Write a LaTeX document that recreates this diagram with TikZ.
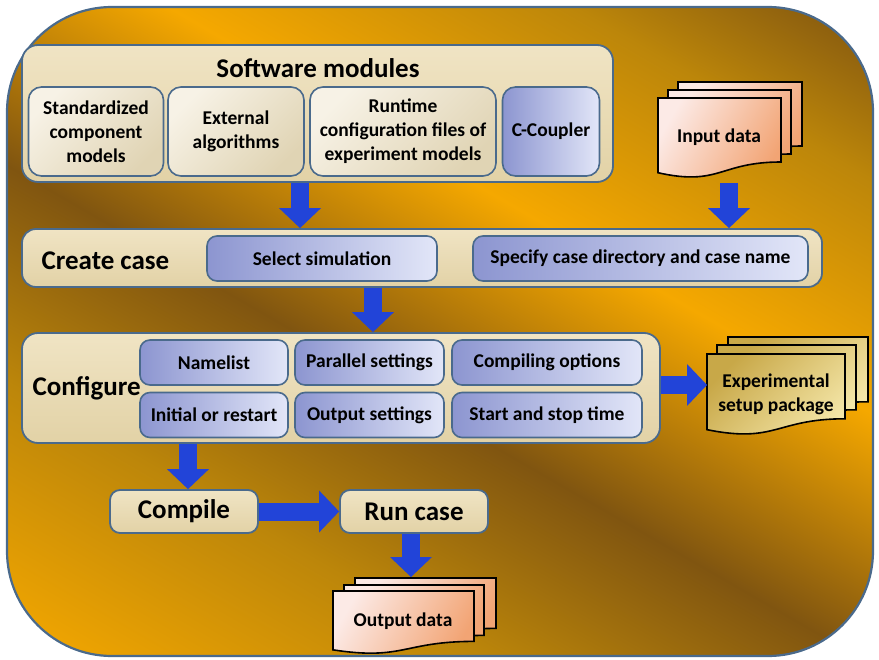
\documentclass[tikz,border=0pt]{standalone}
\usepackage{fontspec}
\setmainfont{Carlito}
\usetikzlibrary{arrows.meta,calc}
\definecolor{bordc}{HTML}{4A6A8C}
\definecolor{gdark}{HTML}{805510}
\definecolor{gmid}{HTML}{BC860A}
\definecolor{gor}{HTML}{F5A800}
\definecolor{beigeA}{HTML}{F0E4C4}
\definecolor{beigeB}{HTML}{E2D2A6}
\definecolor{creamA}{HTML}{F7F2E6}
\definecolor{creamB}{HTML}{E0D4B4}
\definecolor{lavA}{HTML}{8C95D0}
\definecolor{lavB}{HTML}{E2E6F8}
\definecolor{peachA}{HTML}{FCEAE6}
\definecolor{peachB}{HTML}{F2A474}
\definecolor{goldA}{HTML}{F4E6A8}
\definecolor{goldB}{HTML}{C8A848}
\definecolor{arrowblue}{HTML}{2244D8}
\pgfdeclarehorizontalshading{goldbg}{100bp}{color(0bp)=(gdark); color(16bp)=(gor); color(32bp)=(gmid); color(45bp)=(gdark); color(60bp)=(gor); color(74bp)=(gmid); color(84bp)=(gdark); color(100bp)=(gor)}
\newcommand{\docsheet}[5]{% x y w h style
  \path[#5] (#1,#2) -- ++(#3,0) -- ++(0,0.8*#4)
    .. controls ($(#1,#2)+(0.5*#3,0.8*#4)$) and ($(#1,#2)+(0.5*#3,1.107*#4)$) .. ($(#1,#2)+(0,0.934*#4)$) -- cycle;}
\begin{document}
\begin{tikzpicture}[x=1pt,y=-1pt,
  txt/.style={font=\bfseries\fontsize{19.5}{24}\selectfont, align=center, text=black},
  ttl/.style={font=\bfseries\fontsize{27}{30}\selectfont, text=black},
  panel/.style={draw=bordc, line width=1.8pt, rounded corners=16pt, top color=beigeA, bottom color=beigeB, inner sep=0pt},
  cbox/.style={txt, draw=bordc, line width=1.6pt, rounded corners=13pt, left color=creamA, right color=creamB, shading angle=45, inner sep=0pt},
  lbox/.style={txt, draw=bordc, line width=1.6pt, rounded corners=10pt, left color=lavA, right color=lavB, inner sep=0pt},
  sheetP/.style={draw=black, line width=1.6pt, left color=peachA, right color=peachB, shading angle=60},
  sheetG/.style={draw=black, line width=1.6pt, left color=goldB, right color=goldA, shading angle=45},
  blk/.style={draw=arrowblue, line width=18pt, -{Triangle[width=42pt,length=20pt,line width=0pt]}},
]
\useasboundingbox (0,0) rectangle (879,660);
% background frame
\path[shading=goldbg, shading angle=60, draw=bordc, line width=2.2pt, rounded corners=105pt]
  (7,7) rectangle (873,656);

% Software modules
\node[panel, minimum width=591pt, minimum height=137pt] (sw) at (317.5,113.5) {};
\node[ttl] (swt) at (318,68) {Software modules};
\node[cbox, minimum width=135pt, minimum height=89pt] (scm) at (96,131.5) {Standardized\\component\\models};
\node[cbox, minimum width=136pt, minimum height=89pt] (ext) at (236,131.5) {External\\algorithms};
\node[cbox, minimum width=186pt, minimum height=89pt] (rcf) at (403,131.5) {Runtime\\configuration files of\\experiment models};
\node[lbox, rounded corners=13pt, minimum width=97pt, minimum height=89pt] (ccp) at (551,131.5) {C-Coupler};

% Input data
\docsheet{678}{82}{124}{80}{sheetP}
\docsheet{668}{90}{123}{80}{sheetP}
\docsheet{658}{98}{123}{80}{sheetP}
\node[txt] (ind) at (719,137) {Input data};
\coordinate (inb) at (729,183);

% Create case
\node[panel, rounded corners=14pt, minimum width=800pt, minimum height=58pt] (cc) at (422,258) {};
\node[ttl, anchor=west] (cct) at (38,261) {Create case};
\node[lbox, minimum width=230pt, minimum height=45pt] (sel) at (322,258.5) {Select simulation};
\node[lbox, minimum width=335pt, minimum height=45pt] (spc) at (640.5,258.5) {Specify case directory and case name};

% Configure
\node[panel, minimum width=638pt, minimum height=110pt] (cf) at (341,388) {};
\node[ttl, anchor=west] (cft) at (29,388) {Configure};
\node[lbox, minimum width=148pt, minimum height=45pt] (nml) at (214,362.5) {Namelist};
\node[lbox, minimum width=149pt, minimum height=45pt] (par) at (369.5,362.5) {Parallel settings};
\node[lbox, minimum width=190pt, minimum height=45pt] (cmp) at (547,362.5) {Compiling options};
\node[lbox, minimum width=148pt, minimum height=45pt] (ini) at (214,415) {Initial or restart};
\node[lbox, minimum width=149pt, minimum height=45pt] (out) at (369.5,415) {Output settings};
\node[lbox, minimum width=190pt, minimum height=45pt] (sst) at (547,415) {Start and stop time};

% Experimental setup package
\docsheet{728}{337}{140}{81}{sheetG}
\docsheet{717}{345}{139}{81}{sheetG}
\docsheet{707}{354}{138}{81}{sheetG}
\node[txt] (esp) at (776,394) {Experimental\\setup package};
\coordinate (espw) at (707,385);

% Compile / Run case
\node[panel, rounded corners=10pt, minimum width=148pt, minimum height=43pt] (cpl) at (184,511.5) {};
\node[ttl] at (cpl) {Compile};
\node[panel, rounded corners=10pt, minimum width=148pt, minimum height=43pt] (run) at (414,511.5) {};
\node[ttl] at (run) {Run case};

% Output data
\docsheet{355}{578}{141}{63}{sheetP}
\docsheet{344}{585}{140}{63}{sheetP}
\docsheet{333}{591}{141}{63}{sheetP}
\node[txt] (odt) at (403,621) {Output data};
\coordinate (odn) at (411,577);

% arrow columns
\coordinate (x1) at (300,0);
\coordinate (x2) at (373,0);
\coordinate (x3) at (188,0);
\coordinate (x4) at (411,0);

% arrows
\draw[blk] (sw.south -| x1) -- (cc.north -| x1);
\draw[blk] (inb) -- (inb |- cc.north);
\draw[blk] (cc.south -| x2) -- (cf.north -| x2);
\draw[blk] (cf.east |- espw) -- (espw);
\draw[blk] (cf.south -| x3) -- (cpl.north -| x3);
\draw[blk] (cpl.east) -- (run.west);
\draw[blk] (run.south -| x4) -- (odn);
\end{tikzpicture}
\end{document}
